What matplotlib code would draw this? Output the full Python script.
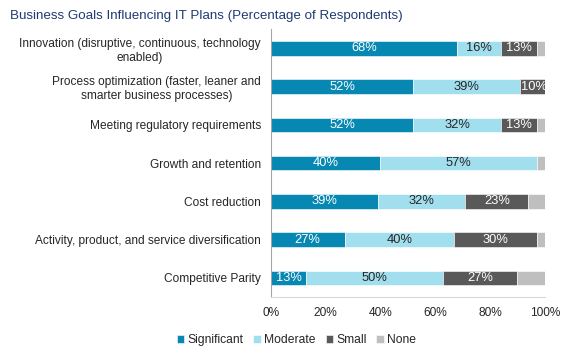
import numpy as np
import matplotlib.pyplot as plt

plt.rcParams['font.family'] = ['Liberation Sans', 'DejaVu Sans']

# Data
categories = [
    'Innovation (disruptive, continuous, technology\nenabled)',
    'Process optimization (faster, leaner and\nsmarter business processes)',
    'Meeting regulatory requirements',
    'Growth and retention',
    'Cost reduction',
    'Activity, product, and service diversification',
    'Competitive Parity',
]
significant = [68, 52, 52, 40, 39, 27, 13]
moderate = [16, 39, 32, 57, 32, 40, 50]
small = [13, 10, 13, 0, 23, 30, 27]
none = [3, 0, 3, 3, 6, 3, 10]

series = [('Significant', significant, '#0788B3', 'white'),
          ('Moderate', moderate, '#A2DFEE', '#262626'),
          ('Small', small, '#595959', 'white'),
          ('None', none, '#BFBFBF', '#262626')]

fig = plt.figure(figsize=(5.76, 3.6), dpi=100)
ax = fig.add_axes([0.470, 0.175, 0.476, 0.744])

y = np.arange(len(categories))
left = np.zeros(len(categories))
for name, vals, color, tcolor in series:
    vals = np.array(vals, dtype=float)
    ax.barh(y, vals, left=left, height=0.38, color=color, label=name,
            edgecolor='white', linewidth=0.4)
    if name != 'None':
        for yi, l, v in zip(y, left, vals):
            if v > 0:
                ax.text(l + v / 2, yi, f'{int(v)}%', ha='center', va='center',
                        color=tcolor, fontsize=9.3)
    left += vals

ax.set_xlim(0, 100)
ax.set_ylim(len(categories) - 0.5, -0.5)
ax.set_yticks(y)
ax.set_yticklabels(categories, fontsize=8.6, color='#262626', multialignment='center')
ax.set_xticks(range(0, 101, 20))
ax.set_xticklabels([f'{v}%' for v in range(0, 101, 20)], fontsize=8.6, color='#262626')
ax.tick_params(length=0, pad=7)
for s in ['top', 'right']:
    ax.spines[s].set_visible(False)
ax.spines['left'].set_color('#A6A6A6')
ax.spines['bottom'].set_color('#D9D9D9')

fig.text(0.017, 0.955, 'Business Goals Influencing IT Plans (Percentage of Respondents)',
         fontsize=9.6, color='#1F3A73', ha='left', va='center')

fig.legend(loc='center', bbox_to_anchor=(0.515, 0.055), ncol=4, frameon=False,
           fontsize=8.7, handlelength=0.6, handleheight=0.6, handletextpad=0.3,
           columnspacing=0.8, labelcolor='#262626')

fig.savefig('out.png', dpi=100)
